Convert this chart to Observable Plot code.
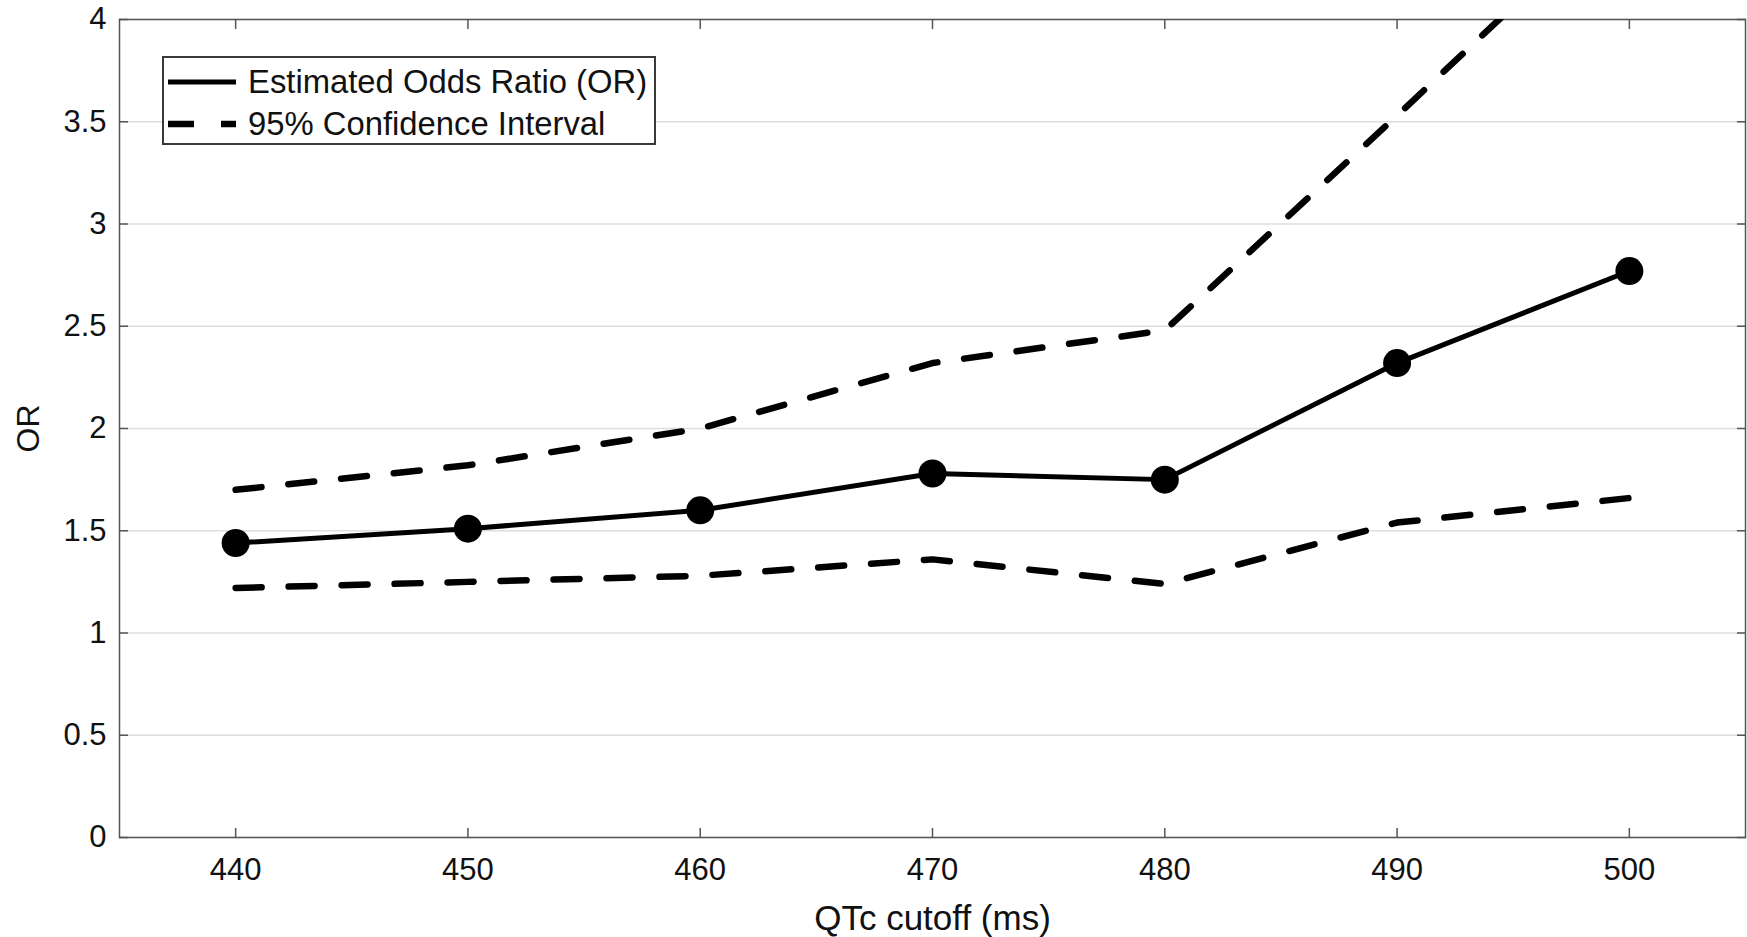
<!DOCTYPE html>
<html>
<head>
<meta charset="utf-8">
<script src="https://cdn.jsdelivr.net/npm/d3@7"></script>
<script src="https://cdn.jsdelivr.net/npm/@observablehq/plot@0.6"></script>
<style>
  html, body { margin: 0; padding: 0; background: #fff; }
  #wrap { position: relative; width: 1747px; height: 937px; font-family: "Liberation Sans", Arial, sans-serif; }
  #wrap svg g[aria-label="x-axis label"] { font-size: 35px; }
  #wrap svg g[aria-label="y-axis label"] { font-size: 32px; }
  #legend { position: absolute; left: 162px; top: 56px; width: 490px; height: 85px; border: 2px solid #3a3a3a; background: #fff; }
  #legend .row { position: absolute; left: 0; height: 40px; display: flex; align-items: center; }
  #legend svg { display: block; }
  #legend span { font-size: 32.8px; color: #111; margin-left: 12px; white-space: nowrap; }
</style>
</head>
<body>
<div id="wrap"></div>
<script>
// Data
const qtc = [440, 450, 460, 470, 480, 490, 500];
const orEstimate = [1.44, 1.51, 1.60, 1.78, 1.75, 2.32, 2.77];
const ciUpper = [1.70, 1.82, 2.00, 2.32, 2.48, 3.53, 4.60];
const ciLower = [1.22, 1.25, 1.28, 1.36, 1.24, 1.54, 1.66];
const xTicks = [440, 450, 460, 470, 480, 490, 500];
const yTicks = [0, 0.5, 1, 1.5, 2, 2.5, 3, 3.5, 4];
const legendLabels = ["Estimated Odds Ratio (OR)", "95% Confidence Interval"];

const est = qtc.map((x, i) => ({x, y: orEstimate[i]}));
const up = qtc.map((x, i) => ({x, y: ciUpper[i]}));
const lo = qtc.map((x, i) => ({x, y: ciLower[i]}));

const axisColor = "#555";
const dash = "26,27";

const chart = Plot.plot({
  width: 1747,
  height: 937,
  marginLeft: 119,
  marginRight: 2,
  marginTop: 19,
  marginBottom: 100,
  style: {fontFamily: "'Liberation Sans', Arial, sans-serif", background: "#fff", color: "#111"},
  x: {domain: [435, 505], ticks: xTicks},
  y: {domain: [0, 4], ticks: yTicks},
  marks: [
    Plot.gridY(yTicks, {stroke: "#dedede", strokeOpacity: 1, strokeWidth: 1.5}),
    // tick labels and axis titles
    Plot.axisX(xTicks, {anchor: "bottom", tickSize: 0, tickPadding: 20, fontSize: 31, label: "QTc cutoff (ms)", labelArrow: "none", labelAnchor: "center", labelOffset: 92, tickFormat: d => String(d)}),
    Plot.axisY(yTicks, {anchor: "left", tickSize: 0, tickPadding: 13, fontSize: 31, label: "OR", labelArrow: "none", labelAnchor: "center", labelOffset: 103, tickFormat: d => String(d)}),
    // inward ticks
    Plot.axisX(xTicks, {anchor: "bottom", tickSize: -9, fill: "none", label: null, stroke: axisColor, strokeWidth: 1.5}),
    Plot.axisX(xTicks, {anchor: "top", tickSize: -9, fill: "none", label: null, stroke: axisColor, strokeWidth: 1.5}),
    Plot.axisY(yTicks, {anchor: "left", tickSize: -9, fill: "none", label: null, stroke: axisColor, strokeWidth: 1.5}),
    Plot.axisY(yTicks, {anchor: "right", tickSize: -9, fill: "none", label: null, stroke: axisColor, strokeWidth: 1.5}),
    Plot.frame({stroke: axisColor, strokeWidth: 1.5}),
    Plot.line(up, {x: "x", y: "y", stroke: "#000", strokeWidth: 6.5, strokeDasharray: dash, clip: true}),
    Plot.line(lo, {x: "x", y: "y", stroke: "#000", strokeWidth: 6.5, strokeDasharray: dash, clip: true}),
    Plot.line(est, {x: "x", y: "y", stroke: "#000", strokeWidth: 5}),
    Plot.dot(est, {x: "x", y: "y", r: 14, fill: "#000", stroke: "none"})
  ]
});

const wrap = document.getElementById("wrap");
wrap.appendChild(chart);

// Legend
const legend = document.createElement("div");
legend.id = "legend";
legend.innerHTML = `
  <div class="row" style="top:4px">
    <svg width="72" height="10"><line x1="4" y1="5" x2="72" y2="5" stroke="#000" stroke-width="5"/></svg>
    <span>${legendLabels[0]}</span>
  </div>
  <div class="row" style="top:46px">
    <svg width="72" height="10"><line x1="4" y1="5" x2="72" y2="5" stroke="#000" stroke-width="6.5" stroke-dasharray="${dash}"/></svg>
    <span>${legendLabels[1]}</span>
  </div>`;
wrap.appendChild(legend);
</script>
</body>
</html>
